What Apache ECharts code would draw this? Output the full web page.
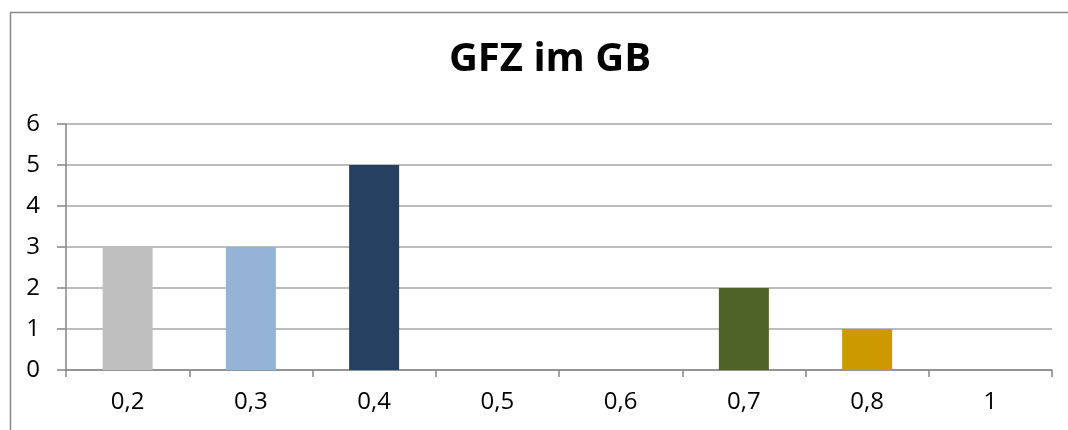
<!DOCTYPE html>
<html><head><meta charset="utf-8">
<script src="https://cdn.jsdelivr.net/npm/echarts@6/dist/echarts.min.js"></script>
<style>html,body{margin:0;padding:0;background:#fff}#c{width:1068px;height:430px}</style>
</head><body><div id="c"></div>
<script>
const categories = ['0,2','0,3','0,4','0,5','0,6','0,7','0,8','1'];
const values = [3,3,5,0,0,2,1,0];
const barColors = ['#BFBFBF','#95B3D7','#254061','#4F81BD','#C0504D','#4F6228','#CC9900','#888888'];
const yTicks = [0,1,2,3,4,5,6];
const chart = echarts.init(document.getElementById('c'));
chart.setOption({
  animation:false,
  backgroundColor:'#fff',
  title:{text:'GFZ im GB',left:545,textAlign:'center',top:35,textStyle:{fontFamily:'Open Sans',fontWeight:'bold',fontSize:40,color:'#000'}},
  graphic:[{type:'rect',shape:{x:10.5,y:12.5,width:1072,height:440},style:{fill:'none',stroke:'#898989',lineWidth:1.5},silent:true}],
  grid:{left:66,right:16,top:124,bottom:60},
  xAxis:{type:'category',data:categories,
    axisLine:{lineStyle:{color:'#868686',width:1.5}},
    axisTick:{show:true,length:7,alignWithLabel:false,lineStyle:{color:'#868686',width:1.5}},
    axisLabel:{fontFamily:'Open Sans',fontSize:24,color:'#000',margin:20}},
  yAxis:{type:'value',min:0,max:6,interval:1,
    axisLine:{show:true,lineStyle:{color:'#868686',width:1.5}},
    axisTick:{show:true,length:9,lineStyle:{color:'#868686',width:1.5}},
    splitLine:{lineStyle:{color:'#A6A6A6',width:1.5}},
    axisLabel:{fontFamily:'Open Sans',fontSize:24,color:'#000',margin:26,formatter:v=>yTicks.includes(v)?String(v):''}},
  series:[{type:'bar',barWidth:50,data:values.map((v,i)=>({value:v,itemStyle:{color:barColors[i]}}))}]
});
</script></body></html>
